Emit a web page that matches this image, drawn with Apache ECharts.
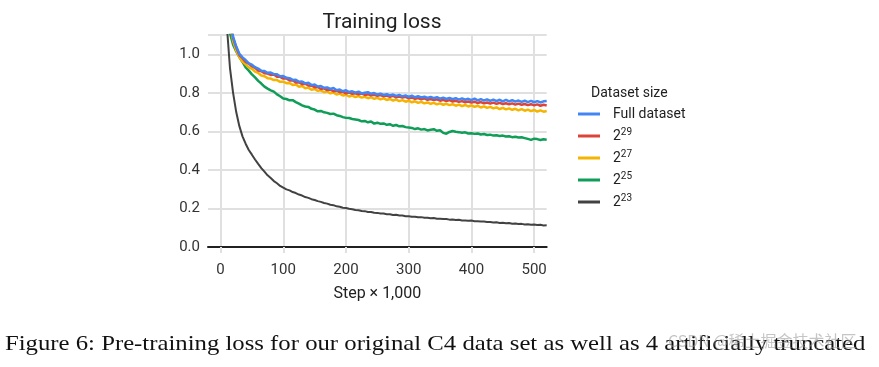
<!DOCTYPE html>
<html>
<head>
<meta charset="utf-8">
<script src="https://cdn.jsdelivr.net/npm/echarts@6/dist/echarts.min.js"></script>
<style>
html,body{margin:0;padding:0;background:#fff;}
#chart{width:879px;height:367px;}
</style>
</head>
<body>
<div id="chart"></div>
<script>
// Step (x 1,000)
const steps = [5,10,15,20,25,30,35,40,45,50,55,60,65,70,75,80,85,90,95,100,
105,110,115,120,125,130,135,140,145,150,155,160,165,170,175,180,185,190,195,200,
205,210,215,220,225,230,235,240,245,250,
255,260,265,270,275,280,285,290,295,300,
305,310,315,320,325,330,335,340,345,350,
355,360,365,370,375,380,385,390,395,400,
405,410,415,420,425,430,435,440,445,450,
455,460,465,470,475,480,485,490,495,500,
505,510,515,520];

const seriesNames = ['Full dataset', '2^29', '2^27', '2^25', '2^23'];

const lossFull = [1.90,1.45,1.20,1.09,1.04,1.003,0.984,0.970,0.953,0.946,0.933,0.926,0.914,0.913,0.904,0.905,0.897,0.896,0.886,0.887,
0.878,0.876,0.867,0.868,0.857,0.859,0.849,0.852,0.840,0.843,0.833,0.835,0.826,0.828,0.820,0.825,0.813,0.817,0.808,0.813,
0.804,0.808,0.801,0.806,0.797,0.800,0.803,0.795,0.799,0.791,
0.796,0.789,0.793,0.786,0.791,0.784,0.789,0.782,0.787,0.779,
0.785,0.777,0.782,0.776,0.780,0.773,0.779,0.772,0.777,0.770,
0.775,0.768,0.774,0.767,0.772,0.765,0.771,0.764,0.769,0.762,
0.770,0.761,0.767,0.760,0.766,0.758,0.765,0.757,0.764,0.756,
0.763,0.755,0.762,0.754,0.760,0.753,0.759,0.752,0.758,0.751,
0.757,0.750,0.756,0.758];

const loss2_29 = [1.88,1.44,1.19,1.085,1.036,0.996,0.980,0.960,0.952,0.938,0.930,0.916,0.912,0.902,0.900,0.893,0.895,0.884,0.883,0.874,
0.874,0.864,0.865,0.854,0.855,0.845,0.847,0.838,0.837,0.829,0.830,0.820,0.823,0.814,0.817,0.808,0.811,0.803,0.805,0.797,
0.801,0.795,0.798,0.792,0.796,0.789,0.793,0.787,0.790,0.785,
0.788,0.782,0.786,0.779,0.784,0.777,0.781,0.775,0.779,0.771,
0.776,0.769,0.773,0.766,0.771,0.764,0.768,0.762,0.766,0.759,
0.764,0.757,0.762,0.755,0.759,0.753,0.757,0.751,0.755,0.749,
0.754,0.747,0.752,0.745,0.750,0.744,0.749,0.743,0.748,0.742,
0.746,0.740,0.745,0.739,0.744,0.738,0.742,0.736,0.741,0.735,
0.740,0.733,0.738,0.734];

const loss2_27 = [1.85,1.42,1.17,1.07,1.02,0.985,0.962,0.948,0.932,0.925,0.910,0.903,0.890,0.886,0.876,0.874,0.866,0.866,0.857,0.858,
0.850,0.851,0.841,0.843,0.832,0.835,0.824,0.827,0.816,0.820,0.810,0.813,0.803,0.807,0.797,0.801,0.791,0.796,0.786,0.790,
0.781,0.786,0.778,0.783,0.775,0.779,0.772,0.777,0.769,0.774,
0.766,0.771,0.763,0.768,0.760,0.765,0.757,0.762,0.754,0.759,
0.751,0.756,0.748,0.753,0.745,0.750,0.743,0.748,0.740,0.745,
0.738,0.743,0.736,0.741,0.733,0.739,0.731,0.737,0.729,0.735,
0.727,0.733,0.724,0.730,0.722,0.727,0.719,0.724,0.716,0.722,
0.714,0.719,0.712,0.717,0.709,0.715,0.707,0.713,0.705,0.711,
0.703,0.709,0.702,0.706];

const loss2_25 = [1.70,1.28,1.11,1.05,1.015,0.985,0.960,0.932,0.915,0.896,0.880,0.862,0.848,0.832,0.822,0.813,0.806,0.792,0.782,0.770,
0.768,0.761,0.762,0.752,0.744,0.735,0.729,0.727,0.717,0.713,0.704,0.706,0.699,0.696,0.690,0.692,0.684,0.680,0.674,0.670,
0.669,0.664,0.662,0.659,0.652,0.654,0.647,0.651,0.640,0.645,
0.639,0.641,0.634,0.637,0.629,0.633,0.626,0.628,0.622,0.620,
0.618,0.612,0.616,0.609,0.612,0.605,0.608,0.611,0.603,0.606,
0.592,0.588,0.597,0.602,0.598,0.596,0.593,0.595,0.589,0.590,
0.587,0.589,0.584,0.586,0.581,0.583,0.578,0.580,0.576,0.578,
0.573,0.575,0.570,0.572,0.568,0.569,0.565,0.561,0.556,0.562,
0.560,0.555,0.559,0.557];

const loss2_23 = [2.20,1.15,0.93,0.80,0.70,0.627,0.574,0.536,0.503,0.479,0.454,0.431,0.409,0.391,0.372,0.358,0.342,0.331,0.317,0.308,
0.299,0.294,0.285,0.280,0.272,0.267,0.259,0.255,0.248,0.244,0.238,0.234,0.228,0.225,0.219,0.217,0.211,0.209,0.204,0.202,
0.198,0.196,0.192,0.191,0.187,0.186,0.182,0.182,0.178,0.177,
0.174,0.174,0.170,0.170,0.166,0.167,0.163,0.163,0.160,0.160,
0.157,0.157,0.154,0.155,0.152,0.152,0.149,0.150,0.147,0.147,
0.145,0.145,0.142,0.143,0.140,0.141,0.138,0.138,0.136,0.137,
0.134,0.134,0.132,0.132,0.130,0.130,0.127,0.128,0.125,0.126,
0.123,0.124,0.121,0.122,0.119,0.120,0.117,0.118,0.115,0.117,
0.114,0.115,0.112,0.113];

const xTickValues = [0,100,200,300,400,500];
const yTickValues = [0,0.2,0.4,0.6,0.8,1.0];

const allLoss = [lossFull, loss2_29, loss2_27, loss2_25, loss2_23];
const colors = ['#4285F4', '#DB4437', '#F4B400', '#0F9D58', '#424242'];
const widths = [2.5, 2.5, 2.5, 2.5, 2];

const chart = echarts.init(document.getElementById('chart'), null, {renderer: 'canvas'});
const FONT = 'Roboto, "Noto Sans", sans-serif';

const series = seriesNames.map((name, i) => ({
  name: name,
  type: 'line',
  data: steps.map((s, j) => [s, allLoss[i][j]]),
  showSymbol: false,
  symbol: 'none',
  lineStyle: {width: widths[i], color: colors[i]},
  itemStyle: {color: colors[i]},
  z: 10 - i,
  clip: true,
  animation: false
}));

function fmtName(n) {
  const m = n.match(/^2\^(\d+)$/);
  if (m) return '2{s|' + m[1] + '}';
  return n;
}

chart.setOption({
  animation: false,
  backgroundColor: '#fff',
  title: [
    {text: 'Training loss', left: 377, top: 7, textAlign: 'center',
     textStyle: {fontFamily: FONT, fontSize: 21, fontWeight: 'normal', color: '#212121'}},
    {text: 'Dataset size', left: 586, top: 81,
     textStyle: {fontFamily: FONT, fontSize: 14, fontWeight: 'normal', color: '#212121'}}
  ],
  legend: {
    orient: 'vertical',
    left: 573,
    top: 100,
    itemWidth: 22,
    itemHeight: 3,
    itemGap: 4,
    icon: 'rect',
    data: seriesNames,
    formatter: fmtName,
    textStyle: {
      fontFamily: FONT, fontSize: 14, color: '#212121', padding: [0,0,0,8], lineHeight: 18,
      rich: {s: {fontFamily: FONT, fontSize: 10, color: '#212121', padding: [0,0,8,0]}}
    }
  },
  grid: {left: 208, top: 35, width: 338.7, height: 212, containLabel: false},
  xAxis: {
    type: 'value',
    min: -20,
    max: 520,
    name: 'Step × 1,000',
    nameLocation: 'middle',
    nameGap: 39,
    nameTextStyle: {fontFamily: FONT, fontSize: 16, color: '#212121'},
    axisLine: {show: true, onZero: false, lineStyle: {color: '#212121', width: 2}},
    axisTick: {show: true, customValues: xTickValues, length: 6, lineStyle: {color: '#e0e0e0', width: 2}},
    axisLabel: {customValues: xTickValues, fontFamily: FONT, fontSize: 15, color: '#333', margin: 16},
    splitLine: {show: true, lineStyle: {color: '#e0e0e0', width: 2}}
  },
  yAxis: {
    type: 'value',
    min: 0,
    max: 1.1,
    interval: 0.2,
    axisLine: {show: false},
    axisTick: {show: false},
    axisLabel: {customValues: yTickValues, fontFamily: FONT, fontSize: 15, color: '#333', margin: 8,
      formatter: v => v.toFixed(1)},
    splitLine: {show: true, lineStyle: {color: '#e0e0e0', width: 2}}
  },
  graphic: [
    {type: 'text', x: 5, y: 333, scaleX: 1.124, z: 100,
     style: {text: 'Figure 6: Pre-training loss for our original C4 data set as well as 4 artificially truncated',
       font: '22px "Liberation Serif", serif', fill: '#111'}},
    {type: 'text', x: 668, y: 333, z: 101,
     style: {text: 'CSDN @稀土掘金技术社区', font: '16px "Noto Sans CJK SC", sans-serif', fill: 'rgba(150,150,150,0.55)'}}
  ],
  series: series
});
</script>
</body>
</html>
